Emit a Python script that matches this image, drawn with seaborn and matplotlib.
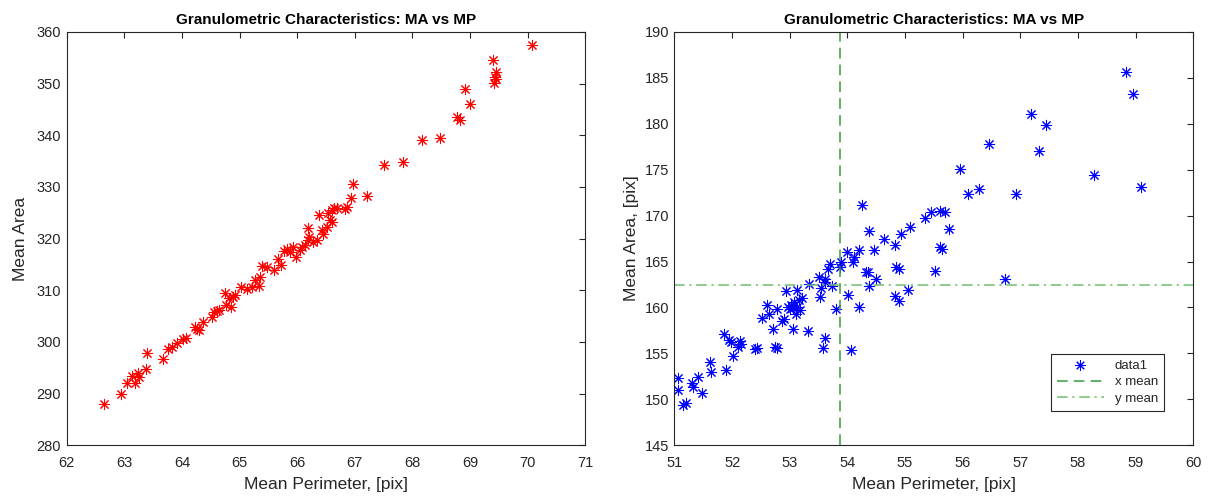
import numpy as np
import pandas as pd
import seaborn as sns
import matplotlib.pyplot as plt
from matplotlib.lines import Line2D

# left panel values (red points)
left_perim = [70.07, 69.39, 69.45, 69.43, 69.45, 69.42, 68.91, 69.00, 68.78, 68.83,
              68.16, 68.48, 67.51, 67.83, 66.96, 67.21, 66.94, 66.86, 66.83, 66.69,
              66.60, 62.64, 62.94, 63.04, 63.19, 63.13, 63.24, 63.26, 63.38, 63.39,
              63.67, 63.76, 63.82, 63.92, 64.01, 64.07, 64.23, 64.30, 64.26, 64.36,
              64.52, 64.56, 64.60, 64.65, 64.74, 64.76, 64.81, 64.85, 64.89, 64.92,
              65.03, 65.13, 65.21, 65.34, 65.27, 65.36, 65.39, 65.47, 65.59, 65.67,
              65.72, 65.77, 65.82, 65.88, 65.93, 65.98, 66.05, 66.08, 66.14, 66.18,
              66.21, 66.19, 66.28, 66.34, 66.37, 66.43, 66.45, 66.51, 66.54, 66.57,
              66.60, 66.63]
left_area = [357.4, 354.5, 352.2, 351.2, 350.8, 350.1, 348.9, 346.1, 343.5, 342.9,
             339.0, 339.4, 334.3, 334.8, 330.6, 328.2, 327.9, 326.1, 325.8, 326.0,
             325.5, 288.0, 290.0, 292.1, 292.1, 293.3, 293.9, 293.2, 294.7, 297.8,
             296.7, 298.7, 299.1, 299.7, 300.5, 300.7, 302.9, 302.3, 302.5, 303.9,
             304.9, 305.7, 305.9, 306.2, 309.4, 307.1, 308.4, 306.8, 308.6, 309.1,
             310.7, 310.2, 310.7, 310.8, 312.0, 312.6, 314.7, 314.4, 314.0, 316.0,
             314.9, 317.6, 317.9, 317.3, 318.4, 316.4, 317.8, 318.4, 318.7, 319.8,
             320.3, 322.0, 319.4, 319.7, 324.5, 321.6, 320.9, 322.3, 324.9, 323.6,
             323.2, 326.0]

# right panel values (blue points)
right_perim = [58.84, 58.96, 57.19, 57.45, 57.33, 56.45, 55.95, 58.27, 59.10, 56.09,
               56.28, 56.92, 55.45, 55.61, 55.69, 55.77, 55.60, 55.65, 55.52, 56.74,
               54.26, 54.37, 54.64, 54.82, 54.93, 55.09, 55.34, 54.46, 54.20, 54.00,
               54.12, 54.10, 53.89, 53.87, 53.69, 53.66, 54.33, 54.36, 54.85, 54.90,
               53.51, 53.61, 54.50, 51.06, 51.06, 51.15, 51.20, 51.31, 51.33, 51.41,
               51.48, 51.62, 51.63, 51.86, 51.90, 51.94, 51.98, 52.02, 52.11, 52.13,
               52.16, 52.39, 52.43, 52.51, 52.60, 52.64, 52.71, 52.74, 52.78, 52.78,
               52.86, 52.90, 52.93, 52.97, 53.00, 53.02, 53.05, 53.08, 53.10, 53.12,
               53.06, 53.13, 53.16, 53.18, 53.22, 53.31, 53.33, 53.52, 53.55, 53.58,
               53.62, 53.62, 53.73, 53.81, 54.01, 54.06, 54.21, 54.38, 54.83, 54.90,
               55.05]
right_area = [185.6, 183.2, 181.1, 179.9, 177.0, 177.8, 175.1, 174.4, 173.1, 172.3,
              172.9, 172.4, 170.4, 170.5, 170.4, 168.5, 166.6, 166.4, 164.0, 163.1,
              171.1, 168.3, 167.5, 166.8, 168.0, 168.8, 169.7, 166.3, 166.2, 166.0,
              165.5, 164.9, 165.0, 164.4, 164.7, 164.2, 163.9, 163.9, 164.4, 164.2,
              163.3, 163.1, 163.1, 152.3, 151.0, 149.4, 149.6, 151.8, 151.3, 152.4,
              150.7, 154.1, 153.0, 157.1, 153.2, 156.5, 156.2, 154.7, 155.7, 156.3,
              156.0, 155.5, 155.6, 158.9, 160.3, 159.3, 157.7, 155.7, 155.6, 159.8,
              158.5, 158.7, 161.8, 160.1, 159.8, 160.3, 159.9, 160.6, 159.3, 160.0,
              157.7, 161.9, 160.8, 159.7, 161.0, 157.4, 162.5, 161.1, 162.1, 155.6,
              156.7, 162.8, 162.3, 159.8, 161.4, 155.4, 160.1, 162.3, 161.2, 160.7,
              161.9]

x_mean = 53.88
y_mean = 162.4

title = "Granulometric Characteristics: MA vs MP"

sns.set_style("white")
plt.rcParams['font.family'] = ['Liberation Sans', 'DejaVu Sans']

axis_col = '#262626'
star = (8, 2, 0)

fig = plt.figure(figsize=(12.12, 4.98), dpi=100)
ax1 = fig.add_axes([0.055, 0.106, 0.428, 0.830])
ax2 = fig.add_axes([0.5565, 0.106, 0.428, 0.830])

df1 = pd.DataFrame({'perim': left_perim, 'area': left_area})
df2 = pd.DataFrame({'perim': right_perim, 'area': right_area})

sns.scatterplot(data=df1, x='perim', y='area', ax=ax1, marker=star, color='red',
                s=55, linewidth=0.75, legend=False)
sns.scatterplot(data=df2, x='perim', y='area', ax=ax2, marker=star, color='blue',
                s=55, linewidth=0.75, legend=False)

ax2.axvline(x_mean, color='#3a9a3a', ls=(0, (7, 4)), lw=1.1)
ax2.axhline(y_mean, color='#6fbf6f', ls=(0, (7, 3, 1.5, 3)), lw=1.1)

ax1.set_xlim(62, 71)
ax1.set_ylim(280, 360)
ax2.set_xlim(51, 60)
ax2.set_ylim(145, 190)
ax1.set_xticks(np.arange(62, 72, 1))
ax1.set_yticks(np.arange(280, 361, 10))
ax2.set_xticks(np.arange(51, 61, 1))
ax2.set_yticks(np.arange(145, 191, 5))

ax1.set_xlabel("Mean Perimeter, [pix]", fontsize=12.5, color=axis_col, labelpad=5)
ax1.set_ylabel("Mean Area", fontsize=12.5, color=axis_col, labelpad=6)
ax2.set_xlabel("Mean Perimeter, [pix]", fontsize=12.5, color=axis_col, labelpad=5)
ax2.set_ylabel("Mean Area, [pix]", fontsize=12.5, color=axis_col, labelpad=4)

for ax in (ax1, ax2):
    ax.set_title(title, fontsize=11, fontweight='bold', color='black', pad=6)
    ax.tick_params(direction='in', length=4, width=0.8, top=True, right=True,
                   labelsize=10.5, colors=axis_col)
    ax.tick_params(axis='x', pad=8)
    ax.tick_params(axis='y', pad=4)
    for sp in ax.spines.values():
        sp.set_color(axis_col)
        sp.set_linewidth(0.8)

handles = [
    Line2D([], [], marker=star, color='blue', ls='none', markersize=7.5, mew=0.75),
    Line2D([], [], color='#3a9a3a', ls=(0, (7, 4)), lw=1.1),
    Line2D([], [], color='#6fbf6f', ls=(0, (7, 3, 1.5, 3)), lw=1.1),
]
leg = ax2.legend(handles, ['data1', 'x mean', 'y mean'], loc='lower right',
                 bbox_to_anchor=(0.956, 0.068), fontsize=9.5, frameon=True,
                 fancybox=False, edgecolor=axis_col, framealpha=1,
                 borderpad=0.45, handlelength=3.6, labelspacing=0.3)
leg.get_frame().set_linewidth(0.8)

plt.savefig('out.png', dpi=100)
